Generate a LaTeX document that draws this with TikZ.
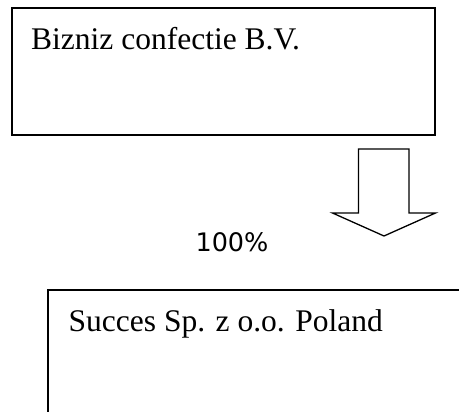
\documentclass[tikz,border=0pt]{standalone}
\usepackage{fontspec}
\setmainfont{Liberation Serif}
\newfontfamily\pctfont{DejaVu Sans}
\begin{document}
\begin{tikzpicture}[x=1pt,y=-1pt,
  boxframe/.style={draw=black,line width=2pt,inner sep=0pt,outer sep=0pt},
  boxlabel/.style={anchor=base west,inner sep=0pt,font=\fontsize{31.5}{36}\selectfont},
  blockarrow/.style={draw=black,line width=1.3pt,line join=miter,fill=white},
  pctlabel/.style={anchor=base,inner sep=0pt,font=\pctfont\fontsize{25.5}{30}\selectfont}]
\useasboundingbox (0,0) rectangle (459,412);
\clip (0,0) rectangle (459,412);
% top box
\node[boxframe,minimum width=423pt,minimum height=127pt,anchor=north west] (top) at (11.5,8.5) {};
\node[boxlabel] (toplabel) at (31,50) {Bizniz confectie B.V.};
% bottom box (runs past the right and lower edges)
\node[boxframe,minimum width=440pt,minimum height=160pt,anchor=north west] (bottom) at (47.5,290.5) {};
\node[boxlabel] (bottomlabel) at (68.5,331.5) {Succes Sp. z o.o. Poland};
% block arrow
\draw[blockarrow] (358.5,149) -- (409,149) -- (409,213) -- (435.5,213) -- (384,236)
  -- (332.5,213) -- (358.5,213) -- cycle;
% percentage
\node[pctlabel] (pct) at (232,251.5) {100\%};
\end{tikzpicture}
\end{document}
